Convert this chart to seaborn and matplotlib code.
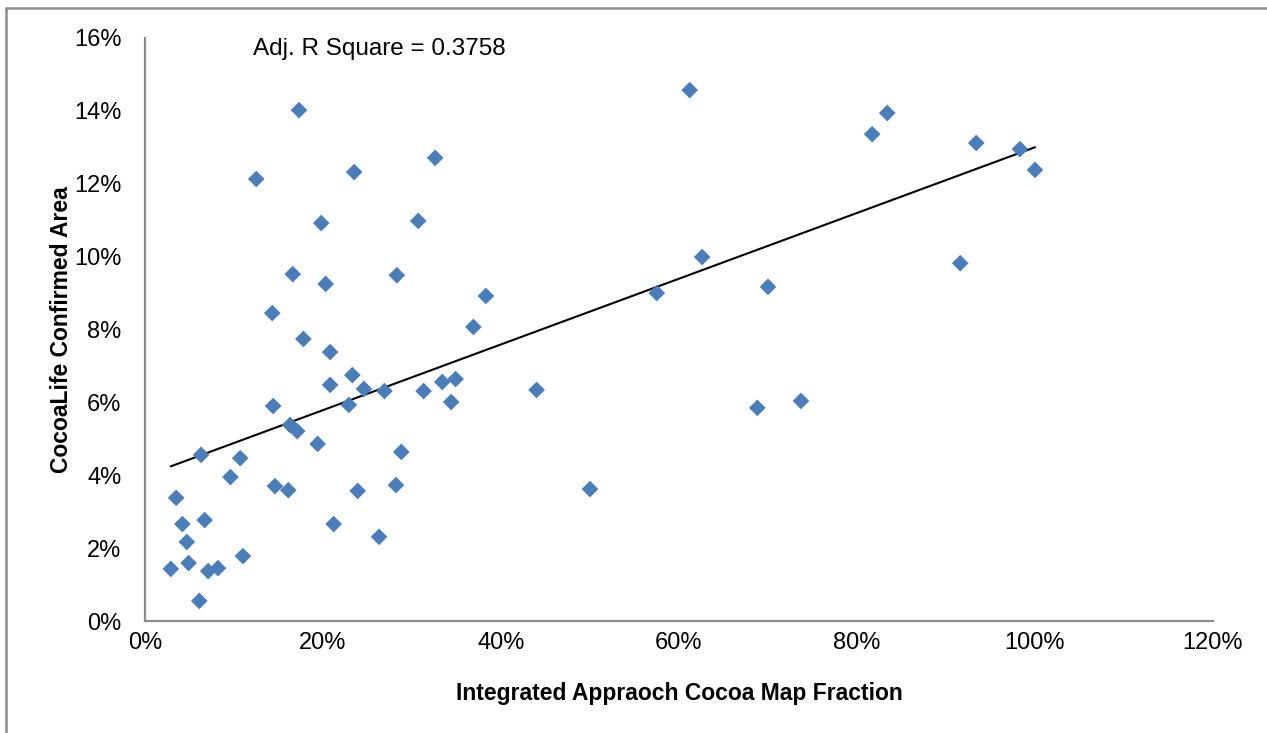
import numpy as np
import pandas as pd
import matplotlib
matplotlib.use("Agg")
import matplotlib.pyplot as plt
import seaborn as sns
from matplotlib.ticker import FuncFormatter
from matplotlib.lines import Line2D

# Data (percent values)
map_fraction = [2.9, 3.5, 4.2, 4.7, 4.9, 6.1, 6.3, 6.7, 7.1, 8.2, 9.6, 10.7, 11.0,
                12.5, 14.3, 14.4, 14.6, 16.1, 16.3, 16.6, 17.1, 17.3, 17.8, 19.4,
                19.8, 20.3, 20.8, 20.8, 21.2, 22.9, 23.3, 23.5, 23.9, 24.6, 26.3,
                26.9, 28.2, 28.3, 28.8, 30.7, 31.3, 32.6, 33.4, 34.4, 34.9, 36.9,
                38.3, 44.0, 50.0, 57.5, 61.2, 62.6, 70.0, 68.8, 73.7, 81.7, 83.4,
                91.6, 93.4, 98.3, 100.0]
confirmed_area = [1.43, 3.38, 2.66, 2.17, 1.59, 0.55, 4.56, 2.77, 1.37, 1.45, 3.95,
                  4.47, 1.78, 12.13, 8.45, 5.90, 3.70, 3.59, 5.38, 9.52, 5.21, 14.02,
                  7.74, 4.86, 10.92, 9.25, 7.38, 6.48, 2.66, 5.93, 6.75, 12.32, 3.57,
                  6.37, 2.31, 6.31, 3.73, 9.49, 4.64, 10.98, 6.31, 12.71, 6.56, 6.01,
                  6.64, 8.07, 8.92, 6.34, 3.62, 9.00, 14.57, 9.99, 9.17, 5.85, 6.04,
                  13.36, 13.94, 9.82, 13.12, 12.95, 12.38]
x_ticks = [0, 20, 40, 60, 80, 100, 120]
y_ticks = [0, 2, 4, 6, 8, 10, 12, 14, 16]
annotation = "Adj. R Square = 0.3758"
x_label = "Integrated Appraoch Cocoa Map Fraction"
y_label = "CocoaLife Confirmed Area"

df = pd.DataFrame({"x": map_fraction, "y": confirmed_area})

sns.set_theme(style="white")
plt.rcParams["font.family"] = ["Liberation Sans Narrow", "Liberation Sans", "DejaVu Sans"]
plt.rcParams["text.color"] = "black"
plt.rcParams["axes.labelcolor"] = "black"

fig = plt.figure(figsize=(12.67, 7.33), dpi=100)
ax = fig.add_axes([145 / 1267, 1 - 621 / 733, (1213 - 145) / 1267, (621 - 38) / 733])

sns.regplot(data=df, x="x", y="y", ax=ax, ci=None, truncate=True,
            marker="D",
            scatter_kws=dict(s=72, color="#4A7EBB", edgecolor="none", zorder=3, alpha=1),
            line_kws=dict(color="black", lw=1.5, zorder=2))

ax.set_xlim(0, 120)
ax.set_ylim(0, 16)
ax.set_xticks(x_ticks)
ax.set_yticks(y_ticks)
ax.xaxis.set_major_formatter(FuncFormatter(lambda v, p: f"{v:.0f}%"))
ax.yaxis.set_major_formatter(FuncFormatter(lambda v, p: f"{v:.0f}%"))

for side in ["top", "right"]:
    ax.spines[side].set_visible(False)
for side in ["left", "bottom"]:
    ax.spines[side].set_color("#8C8C8C")
    ax.spines[side].set_linewidth(1.6)

ax.tick_params(axis="both", which="major", direction="out", length=5, width=1.4,
               color="#8C8C8C", labelsize=17, labelcolor="black")
ax.tick_params(axis="x", pad=3)
ax.tick_params(axis="y", pad=12)

ax.set_xlabel(x_label, fontsize=16.5, fontweight="bold", labelpad=20, color="black")
ax.set_ylabel(y_label, fontsize=16.5, fontweight="bold", labelpad=1, color="black")

ax.text(12.1, 15.7, annotation, fontsize=17.5, va="center", ha="left", color="black")

# outer chart border (top and left visible)
fig.add_artist(Line2D([6 / 1267, 1.0], [1 - 8 / 733, 1 - 8 / 733], transform=fig.transFigure,
                      color="#8C8C8C", lw=1.8))
fig.add_artist(Line2D([6 / 1267, 6 / 1267], [0, 1 - 8 / 733], transform=fig.transFigure,
                      color="#8C8C8C", lw=1.8))

fig.savefig("out.png", dpi=100)
